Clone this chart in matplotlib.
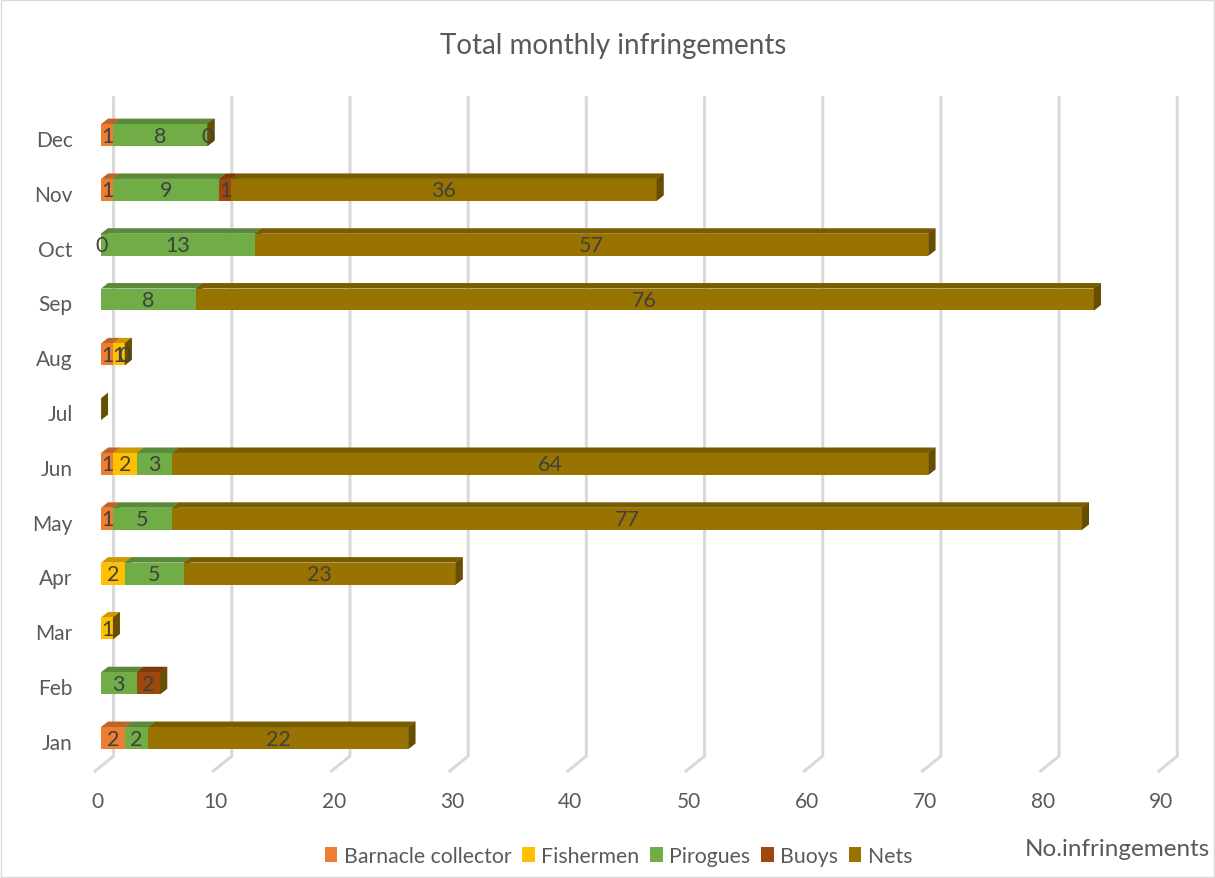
import matplotlib
matplotlib.use("Agg")
import matplotlib.pyplot as plt
from matplotlib.patches import Polygon, Rectangle
import matplotlib.colors as mcolors

plt.rcParams['font.family'] = ['Lato', 'DejaVu Sans']

months = ["Jan", "Feb", "Mar", "Apr", "May", "Jun", "Jul", "Aug", "Sep", "Oct", "Nov", "Dec"]
series_names = ["Barnacle collector", "Fishermen", "Pirogues", "Buoys", "Nets"]
series_colors = ["#ED7D31", "#FFC000", "#70AD47", "#9E480E", "#997300"]

barnacle = [2, None, None, None, 1, 1, None, 1, None, 0, 1, 1]
fishermen = [None, None, 1, 2, None, 2, None, 1, None, None, None, None]
pirogues = [2, 3, None, 5, 5, 3, None, None, 8, 13, 9, 8]
buoys = [None, 2, None, None, None, None, None, None, None, None, 1, None]
nets = [22, None, None, 23, 77, 64, None, 0, 76, 57, 36, 0]

x_ticks = list(range(0, 100, 10))

series = [barnacle, fishermen, pirogues, buoys, nets]

# 3d look: depth offsets in data units
DX, DY = 0.59, 0.10
BAR_H = 0.40
GRID_BACK = 1.06
GRID_FRONT = -0.6


def shade(c, f):
    r, g, b = mcolors.to_rgb(c)
    return (r * f, g * f, b * f)


fig = plt.figure(figsize=(12.15, 8.79), dpi=100)
ax = fig.add_axes([0.0686, 0.1094, 0.9095, 0.7857])
ax.set_xlim(-1.5, 92)
ax.set_ylim(-0.8, 11.8)
ax.axis("off")

# walls: back gridlines plus the slanted floor ticks
for t in x_ticks:
    ax.plot([t + GRID_BACK, t + GRID_BACK, t + GRID_FRONT],
            [11.71, -0.33, -0.62], color="#D9D9D9", lw=2.2,
            solid_capstyle="butt", zorder=1)
    ax.text(t - 0.3, -1.15, str(t), ha="center", va="center",
            fontsize=15, color="#595959", clip_on=False)

for i, m in enumerate(months):
    ax.text(-2.4, i - 0.09, m, ha="right", va="center", fontsize=15,
            color="#595959", clip_on=False)

for i in range(len(months)):
    yb = i - BAR_H / 2
    yt = i + BAR_H / 2
    left = 0
    for vals, col in zip(series, series_colors):
        v = vals[i]
        if v is None:
            continue
        x0, x1 = left, left + v
        side = Polygon([(x1, yb), (x1, yt), (x1 + DX, yt + DY), (x1 + DX, yb + DY)],
                       closed=True, facecolor=shade(col, 0.68), edgecolor="none", zorder=2)
        top = Polygon([(x0, yt), (x1, yt), (x1 + DX, yt + DY), (x0 + DX, yt + DY)],
                      closed=True, facecolor=shade(col, 0.8), edgecolor="none", zorder=2)
        front = Rectangle((x0, yb), v, BAR_H, facecolor=col, edgecolor="none", zorder=3)
        ax.add_patch(side)
        ax.add_patch(top)
        ax.add_patch(front)
        ax.text(x0 + v / 2, i - 0.01, str(v), ha="center", va="center", fontsize=15.5,
                color="#404040", zorder=5)
        left = x1
    # closing face of the stack (nets side)
    ax.add_patch(Polygon([(left, yb), (left, yt), (left + DX, yt + DY), (left + DX, yb + DY)],
                         closed=True, facecolor=shade(series_colors[-1], 0.68),
                         edgecolor="none", zorder=4))

fig.text(0.505, 1 - 46 / 879, "Total monthly infringements", ha="center", va="center",
         fontsize=20, color="#595959")

handles = [Rectangle((0, 0), 1, 1, facecolor=c, edgecolor="none") for c in series_colors]
fig.legend(handles, series_names, loc="center", bbox_to_anchor=(0.509, 1 - 857 / 879),
           ncol=5, frameon=False, fontsize=15.3, handlelength=0.6, handleheight=0.7,
           handletextpad=0.3, columnspacing=0.5, labelcolor="#595959")

fig.text(0.996, 1 - 850 / 879, "No.infringements", ha="right", va="center",
         fontsize=17.5, color="#595959")

fig.patches.append(Rectangle((0.001, 0.001), 0.998, 0.998, transform=fig.transFigure,
                             fill=False, edgecolor="#D9D9D9", lw=1))

fig.savefig("out.png", dpi=100)
